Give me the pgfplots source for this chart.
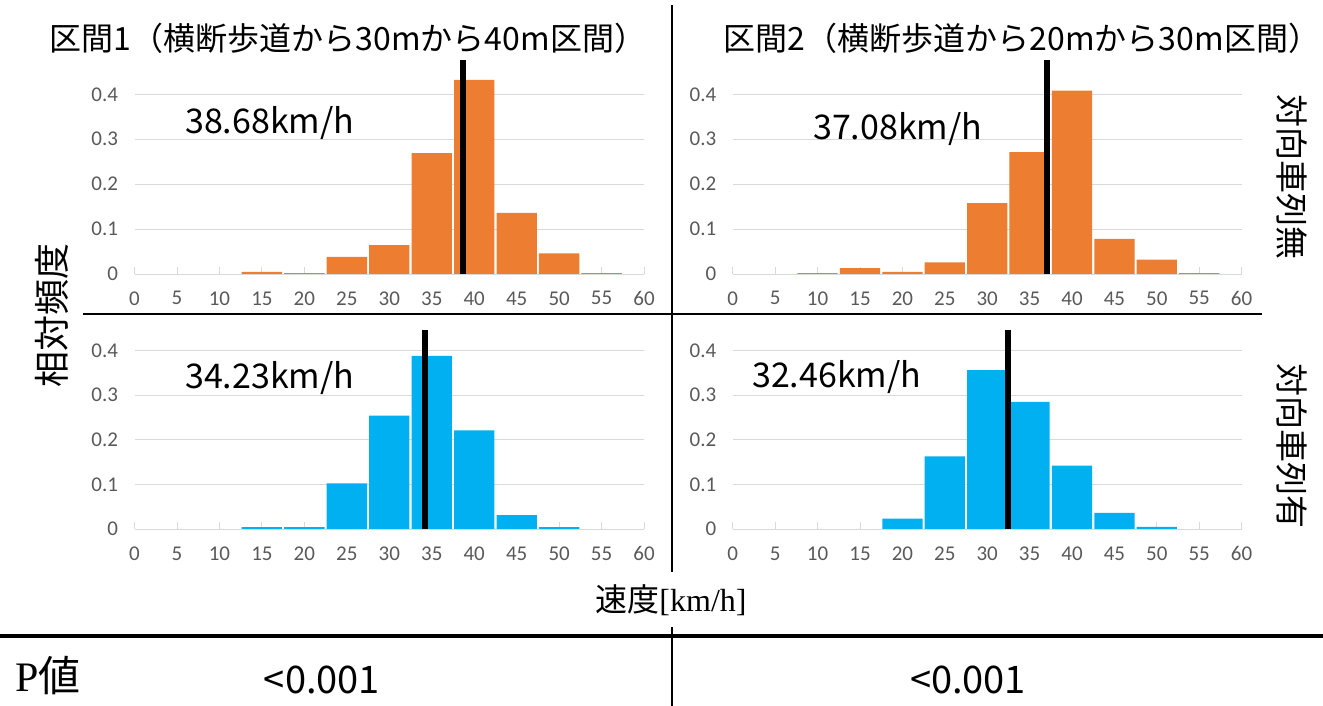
\documentclass[border=0pt]{standalone}
\usepackage{pgfplots}
\pgfplotsset{compat=1.18}
\usepackage{fontspec}
\setmainfont{Noto Sans CJK JP}
\newfontfamily\carlito{Carlito}
\newfontfamily\libserif{Liberation Serif}
\definecolor{orangeC}{HTML}{ED7D31}
\definecolor{blueC}{HTML}{00B0F0}
\definecolor{tickgray}{HTML}{595959}
\definecolor{gridgray}{HTML}{D9D9D9}
\pgfplotsset{
  hist/.style={
    scale only axis, xmin=0, xmax=60, ymin=0, ymax=0.4, clip=false,
    anchor=south west,
    axis line style={draw=none},
    ytick={0,0.1,0.2,0.3,0.4}, yticklabels={0,0.1,0.2,0.3,0.4},
    xtick={0,5,...,60}, xticklabels={0,5,10,15,20,25,30,35,40,45,50,55,60},
    ymajorgrids, grid style={color=gridgray, line width=0.9pt},
    xtick pos=left, ytick style={draw=none},
    xtick style={color=gridgray, line width=0.9pt},
    major tick length=7pt, tick align=inside,
    ticklabel style={font=\carlito\fontsize{21}{21}\selectfont, text=tickgray},
    yticklabel style={xshift=-13pt},
    xticklabel style={yshift=-14pt},
  },
  bars/.style={ybar, bar width=4.75, draw=none, fill=#1},
  meanline/.style={black, line width=6pt},
}
\begin{document}
\begin{tikzpicture}[x=1pt,y=1pt]
\path[use as bounding box] (0,0) rectangle (1323,706);
% top-left
\begin{axis}[hist, at={(134.5pt,432pt)}, width=509.6pt, height=179.7pt]
\addplot[bars=orangeC] coordinates {(15,0.0045) (20,0.002) (25,0.038) (30,0.064) (35,0.269) (40,0.432) (45,0.136) (50,0.046) (55,0.002)};
\addplot[meanline] coordinates {(38.68,0) (38.68,0.477)};
\end{axis}
% top-right
\begin{axis}[hist, at={(732.8pt,432pt)}, width=508.8pt, height=179.7pt]
\addplot[bars=orangeC] coordinates {(10,0.002) (15,0.013) (20,0.0045) (25,0.026) (30,0.158) (35,0.271) (40,0.408) (45,0.078) (50,0.032) (55,0.002)};
\addplot[meanline] coordinates {(37.08,0) (37.08,0.477)};
\end{axis}
% bottom-left
\begin{axis}[hist, at={(134.5pt,177pt)}, width=509.6pt, height=178.5pt]
\addplot[bars=blueC] coordinates {(15,0.004) (20,0.004) (25,0.102) (30,0.254) (35,0.388) (40,0.221) (45,0.031) (50,0.004)};
\addplot[meanline] coordinates {(34.23,0) (34.23,0.447)};
\end{axis}
% bottom-right
\begin{axis}[hist, at={(732.8pt,177pt)}, width=508.8pt, height=178.5pt]
\addplot[bars=blueC] coordinates {(20,0.023) (25,0.163) (30,0.356) (35,0.285) (40,0.142) (45,0.036) (50,0.0045)};
\addplot[meanline] coordinates {(32.46,0) (32.46,0.447)};
\end{axis}
% titles
\node[inner sep=0, font=\fontsize{32}{38}\selectfont] at (348,668) {区間1（横断歩道から30mから40m区間）};
\node[inner sep=0, font=\fontsize{32}{38}\selectfont] at (1022,668) {区間2（横断歩道から20mから30m区間）};
% mean labels
\node[inner sep=0, anchor=west, font=\fontsize{34}{40}\selectfont] at (185,583) {38.68km/h};
\node[inner sep=0, anchor=west, font=\fontsize{34}{40}\selectfont] at (813,577) {37.08km/h};
\node[inner sep=0, anchor=west, font=\fontsize{34}{40}\selectfont] at (185,328) {34.23km/h};
\node[inner sep=0, anchor=west, font=\fontsize{34}{40}\selectfont] at (752,329) {32.46km/h};
% side labels
\node[inner sep=0, rotate=90, font=\fontsize{36}{40}\selectfont] at (52,390) {相対頻度};
\node[inner sep=0, rotate=-90, font=\fontsize{33}{40}\selectfont] at (1292,529) {対向車列無};
\node[inner sep=0, rotate=-90, font=\fontsize{33}{40}\selectfont] at (1292,260) {対向車列有};
\node[inner sep=0, font=\fontsize{32}{36}\selectfont] at (671,106) {速度{\libserif[km/h]}};
% lines
\draw[line width=2pt] (671.7,701) -- (671.7,134);
\draw[line width=2pt] (671.7,79) -- (671.7,0);
\draw[line width=2.5pt] (83,392) -- (1262,392);
\draw[line width=3.5pt] (0,70) -- (1323,70);
% P value row
\node[inner sep=0, anchor=west, font=\fontsize{42}{44}\selectfont] at (15,30) {{\libserif P}値};
\node[inner sep=0, font=\fontsize{38}{40}\selectfont] at (322,26) {<0.001};
\node[inner sep=0, font=\fontsize{38}{40}\selectfont] at (968,26) {<0.001};
\end{tikzpicture}
\end{document}
